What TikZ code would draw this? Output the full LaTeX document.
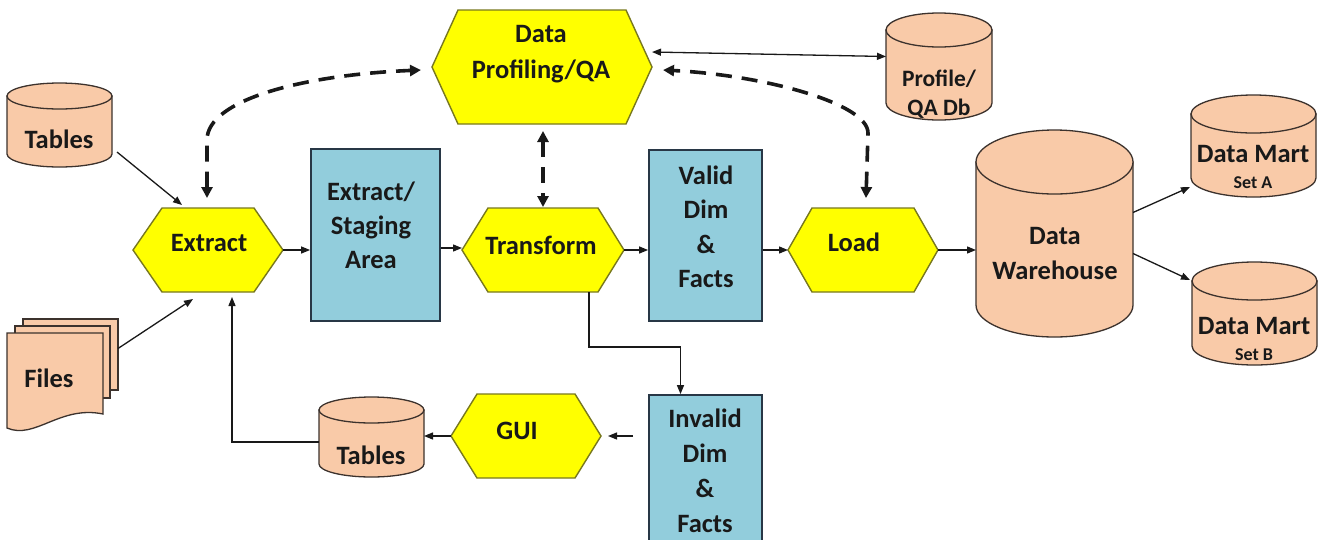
\documentclass[tikz,border=0pt]{standalone}
\usepackage{fontspec}
\setmainfont{Carlito}
\usetikzlibrary{arrows.meta,calc}

\definecolor{hexyellow}{RGB}{255,255,0}
\definecolor{hexedge}{RGB}{120,120,30}
\definecolor{boxblue}{RGB}{146,205,220}
\definecolor{boxedge}{RGB}{40,55,70}
\definecolor{peach}{RGB}{249,202,168}
\definecolor{peachedge}{RGB}{60,50,45}
\definecolor{ink}{RGB}{25,25,25}

\tikzset{
  lbl/.style={inner sep=0pt, align=center, text=ink,
    font=\fontsize{26.5}{34}\selectfont\bfseries},
  smalllbl/.style={inner sep=0pt, align=center, text=ink,
    font=\fontsize{18}{20}\selectfont\bfseries},
  hexfill/.style={fill=hexyellow, draw=hexedge, line width=1.4pt, line join=miter},
  bluebox/.style={fill=boxblue, draw=boxedge, line width=1.8pt, inner sep=0pt},
  cylfill/.style={fill=peach, draw=peachedge, line width=1.3pt},
  anchorbox/.style={inner sep=0pt, outer sep=0pt, draw=none},
  arr/.style={draw=ink, line width=1.3pt, -{Triangle[length=9pt,width=7pt]}},
  biarr/.style={draw=ink, line width=1.3pt,
    {Triangle[length=9pt,width=7pt]}-{Triangle[length=9pt,width=7pt]}},
  dasharr/.style={draw=ink, line width=3.6pt, dash pattern=on 16pt off 10pt,
    {Triangle[length=11pt,width=11pt]}-{Triangle[length=11pt,width=11pt]}}
}

% hexagon: name, cx, cy, half width, half height, indent
\newcommand{\hexshape}[6]{%
  \draw[hexfill] (#2-#4,#3) -- (#2-#4+#6,#3-#5) -- (#2+#4-#6,#3-#5)
    -- (#2+#4,#3) -- (#2+#4-#6,#3+#5) -- (#2-#4+#6,#3+#5) -- cycle;
  \node[anchorbox, minimum width=2*#4, minimum height=2*#5] (#1) at (#2,#3) {};
}

% database cylinder: name, left, top, right, bottom, ellipse y radius
\newcommand{\dbshape}[6]{%
  \pgfmathsetmacro\cylcx{(#2+#4)/2}%
  \pgfmathsetmacro\cylrx{(#4-#2)/2}%
  \draw[cylfill] (#2,#3+#6) -- (#2,#5-#6)
    arc[start angle=180, end angle=0, x radius=\cylrx, y radius=#6]
    -- (#4,#3+#6) -- cycle;
  \draw[cylfill] (\cylcx,#3+#6) ellipse[x radius=\cylrx, y radius=#6];
  \node[anchorbox, minimum width=#4-#2, minimum height=#5-#3]
    (#1) at (\cylcx,{(#3+#5)/2}) {};
}

\begin{document}
\begin{tikzpicture}[x=1pt, y=-1pt]
\useasboundingbox (0,0) rectangle (1331,539);
\clip (0,0) rectangle (1331,539);
\fill[white] (0,0) rectangle (1331,539);

% sources
\dbshape{tab1}{7}{83}{112}{167}{13}
\node[lbl] (tab1-t) at (59,139) {Tables};

\draw[cylfill] (23,319) rectangle (118,390);
\draw[cylfill] (15,326) rectangle (110,398);
\draw[cylfill] (7,333) -- (103,333) -- (103,414)
  .. controls (60,405) and (35,440) .. (7,428) -- cycle;
\node[anchorbox, minimum width=111, minimum height=111] (files) at (62.5,374.5) {};
\node[lbl] (files-t) at (49,378) {Files};

% process steps
\hexshape{ext}{208}{250}{75}{42}{29}
\node[lbl] (ext-t) at (209,243) {Extract};

\hexshape{prof}{542}{67}{110}{57}{26}
\node[lbl, font=\fontsize{26.5}{36}\selectfont\bfseries] (prof-t) at (541,54) {Data\\Profiling/QA};

\hexshape{trans}{543}{250}{81}{42}{26}
\node[lbl] (trans-t) at (541,245) {Transform};

\hexshape{load}{863}{250}{75}{42}{24}
\node[lbl] (load-t) at (854,242) {Load};

\hexshape{gui}{526}{436}{75}{42}{26}
\node[lbl] (gui-t) at (517,431) {GUI};

% staging and result areas
\node[bluebox, minimum width=129, minimum height=172] (stage) at (375.5,235) {};
\node[lbl] (stage-t) at (371,225) {Extract/\\Staging\\Area};

\node[bluebox, minimum width=113, minimum height=171] (valid) at (705.5,235.5) {};
\node[lbl, font=\fontsize{26.5}{34.5}\selectfont\bfseries] (valid-t) at (706,227) {Valid\\Dim\\\&\\Facts};

\node[bluebox, minimum width=113, minimum height=170] (inv) at (705.5,480) {};
\node[lbl, font=\fontsize{26.5}{35}\selectfont\bfseries] (inv-t) at (705,471) {Invalid\\Dim\\\&\\Facts};

% stores
\dbshape{pqa}{886}{13}{992}{120}{17}
\node[lbl, font=\fontsize{23.5}{29}\selectfont\bfseries] (pqa-t) at (939,94) {Profile/\\QA Db};

\dbshape{dw}{976}{130}{1133}{337}{32}
\node[lbl, font=\fontsize{26.5}{35}\selectfont\bfseries] (dw-t) at (1055,253) {Data\\Warehouse};

\dbshape{dma}{1191}{95}{1316}{197}{19}
\node[lbl] (dma-t) at (1253,154) {Data Mart};
\node[smalllbl] (dma-s) at (1253,183) {Set A};

\dbshape{dmb}{1192}{262}{1317}{365}{19}
\node[lbl] (dmb-t) at (1254,326) {Data Mart};
\node[smalllbl] (dmb-s) at (1254,355) {Set B};

\dbshape{tab2}{319}{397}{424}{477}{13}
\node[lbl] (tab2-t) at (371,455) {Tables};

% main flow
\draw[arr] ($(tab1.south east)+(5,-15)$) -- ($(ext.north)+(-26,-3)$);
\draw[arr] ($(files.east)+(0,-26)$) -- ($(ext.south)+(-15,7)$);
\draw[arr] (ext.east) -- (ext.east -| stage.west);
\draw[arr] ($(trans.west -| stage.east)+(0,-2)$) -- ($(trans.west)+(0,-2)$);
\draw[arr] (trans.east) -- (trans.east -| valid.west);
\draw[arr] (load.west -| valid.east) -- (load.west);
\draw[arr] (load.east) -- (load.east -| dw.west);
\draw[arr] ($(dw.east)+(0,-21)$) -- ($(dma.west)+(-1,41)$);
\draw[arr] ($(dw.east)+(0,20)$) -- ($(dmb.west)+(-2,-33.5)$);

% rejected records loop
\draw[arr] ($(trans.south)+(46,0)$) -- ++(0,55) -| ($(inv.north)+(-25,0)$);
\draw[arr] ($(inv.west |- gui.east)+(-15,0)$) -- ($(gui.east)+(7,0)$);
\draw[arr] (gui.west) -- (gui.west -| tab2.east);
\draw[arr] ($(tab2.west)+(0,5)$) -| ($(ext.south)+(24,5)$);

% profiling
\draw[biarr] ($(prof.east)+(0,-15)$) -- ($(pqa.west)+(0,-10)$);
\draw[dasharr] ($(ext.north)+(-1,-10)$) -- ++(0,-58)
  .. controls +(0,-40) and ($(prof.west)+(-130,8)$) .. ($(prof.west)+(-11,3)$);
\draw[dasharr] ($(load.north)+(3,-10)$) -- ($(load.north)+(5,-75)$)
  .. controls +(0,-30) and ($(prof.east)+(110,8)$) .. ($(prof.east)+(11,3)$);
\draw[dasharr] ($(prof.south)+(1,7)$) -- ($(trans.north)+(0,-1)$);
\end{tikzpicture}
\end{document}
